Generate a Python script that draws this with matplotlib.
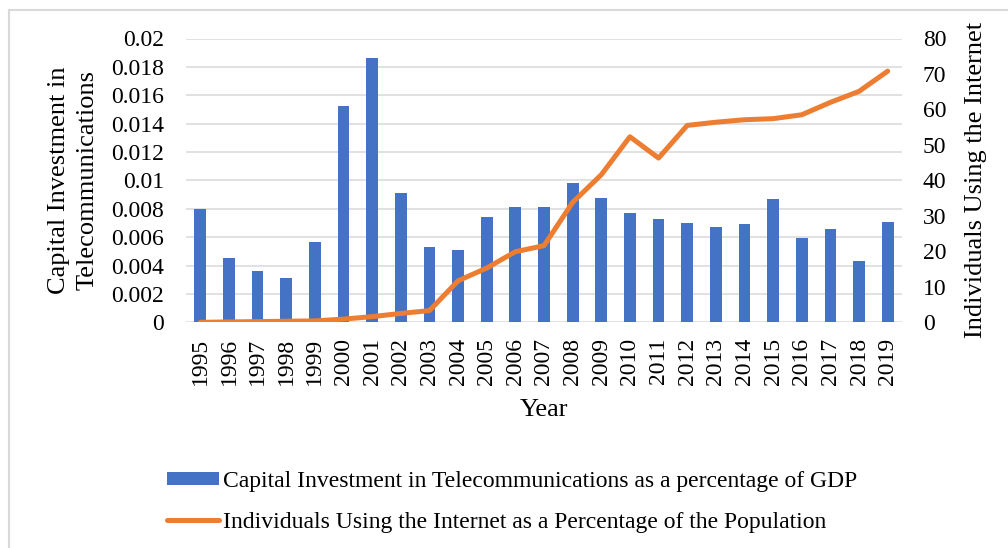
import matplotlib
matplotlib.use("Agg")
import matplotlib.pyplot as plt
from matplotlib.lines import Line2D
from matplotlib.patches import Patch

years = [str(y) for y in range(1995, 2020)]
capital_investment = [0.0080, 0.00456, 0.00362, 0.00313, 0.00569, 0.01527, 0.01864,
                      0.00908, 0.00530, 0.00508, 0.00741, 0.00816, 0.00812, 0.00983,
                      0.00875, 0.00772, 0.00731, 0.00701, 0.00673, 0.00694, 0.00868,
                      0.00597, 0.00657, 0.00433, 0.00708]
internet_users = [0.0, 0.1, 0.2, 0.3, 0.4, 0.9, 1.6, 2.5, 3.3, 11.7, 15.3, 19.9, 21.6,
                  33.8, 41.6, 52.3, 46.3, 55.5, 56.4, 57.1, 57.4, 58.5, 62.0, 65.1, 70.8]
left_ticks = [0, 0.002, 0.004, 0.006, 0.008, 0.01, 0.012, 0.014, 0.016, 0.018, 0.02]
left_ticklabels = ["0", "0.002", "0.004", "0.006", "0.008", "0.01", "0.012",
                   "0.014", "0.016", "0.018", "0.02"]
right_ticks = [0, 10, 20, 30, 40, 50, 60, 70, 80]

bar_label = "Capital Investment in Telecommunications as a percentage of GDP"
line_label = "Individuals Using the Internet as a Percentage of the Population"

BLUE = "#4472C4"
ORANGE = "#ED7D31"
GRID = "#D9D9D9"

plt.rcParams["font.family"] = ["Liberation Serif", "DejaVu Serif"]

W, H = 1008, 548
fig = plt.figure(figsize=(W / 100, H / 100), dpi=100)

# outer frame (top and left edges visible)
fig.add_artist(Line2D([9 / W, 9 / W], [0, 1 - 9.5 / H], color=GRID, lw=1.5,
                      transform=fig.transFigure))
fig.add_artist(Line2D([9 / W, 1], [1 - 9.5 / H, 1 - 9.5 / H], color=GRID, lw=1.5,
                      transform=fig.transFigure))

left, right, top, bottom = 186, 902, 38.5, 322.3
ax = fig.add_axes([left / W, 1 - bottom / H, (right - left) / W, (bottom - top) / H])
x = list(range(len(years)))
ax.bar(x, capital_investment, width=0.41, color=BLUE, zorder=2)
ax.set_xlim(-0.5, len(years) - 0.5)
ax.set_ylim(0, 0.02)
ax.set_yticks(left_ticks)
ax.set_yticklabels(left_ticklabels)
ax.set_xticks(x)
ax.set_xticklabels(years, rotation=90)
ax.grid(axis="y", color=GRID, lw=1.1, zorder=0)
ax.set_axisbelow(True)
for s in ax.spines.values():
    s.set_visible(False)
ax.tick_params(axis="y", length=0, pad=16, labelsize=17)
ax.tick_params(axis="x", length=0, pad=11, labelsize=17)
ax.set_ylabel("Capital Investment in\nTelecommunications", fontsize=19,
              linespacing=1.35, labelpad=9)
ax.set_xlabel("Year", fontsize=19, labelpad=10)

ax2 = ax.twinx()
ax2.plot(x, internet_users, color=ORANGE, lw=3.6, solid_capstyle="round",
         solid_joinstyle="round", zorder=3)
ax2.set_ylim(0, 80)
ax2.set_yticks(right_ticks)
for s in ax2.spines.values():
    s.set_visible(False)
ax2.tick_params(axis="y", length=0, pad=15, labelsize=17)
ax2.set_ylabel("Individuals Using the Internet", fontsize=19, labelpad=13)

handles = [Patch(facecolor=BLUE, edgecolor="none"),
           Line2D([], [], color=ORANGE, lw=3.6, solid_capstyle="round")]
fig.legend(handles, [bar_label, line_label], loc="upper left",
           bbox_to_anchor=(155 / W, 1 - 459 / H), frameon=False, fontsize=17,
           borderpad=0, handlelength=2.2, handleheight=0.5, handletextpad=0.2,
           labelspacing=0.85)

fig.savefig("out.png", dpi=100)
